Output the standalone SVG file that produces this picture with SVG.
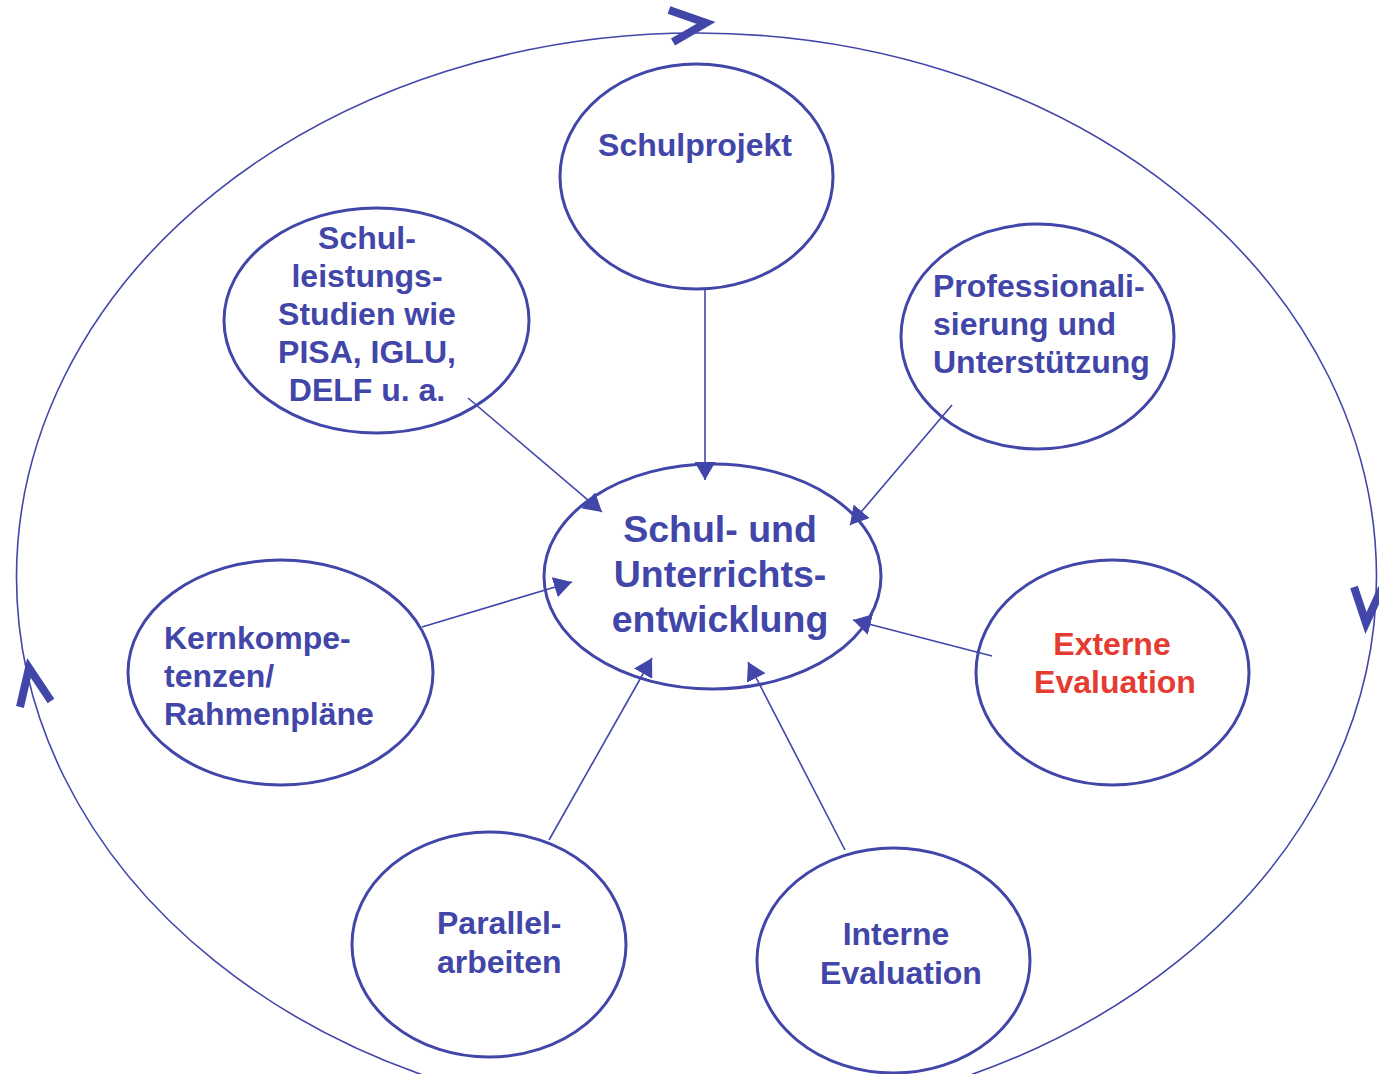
<svg xmlns="http://www.w3.org/2000/svg" width="1379" height="1074" viewBox="0 0 1379 1074">
<defs>
<style>
.node{fill:#fff;stroke:#4146A8;stroke-width:3}
.outer{fill:none;stroke:#4146A8;stroke-width:1.6}
.t{font-family:"Liberation Sans",Arial,sans-serif;font-weight:bold;font-size:32px;fill:#4146A8}
.c{text-anchor:middle}
.big{font-size:37.5px}
.red{fill:#E53B30}
.conn{stroke:#4146A8;stroke-width:1.6;fill:none;marker-end:url(#ah)}
.chev{fill:none;stroke:#4146A8;stroke-width:8;stroke-linejoin:miter}
</style>
<marker id="ah" viewBox="0 0 18 21" refX="18" refY="10.5" markerWidth="18" markerHeight="21" markerUnits="userSpaceOnUse" orient="auto">
<path d="M0,0 L18,10.5 L0,21 z" fill="#4146A8"/>
</marker>
</defs>
<rect width="1379" height="1074" fill="#fff"/>
<g id="cycle">
<ellipse class="outer" cx="696.5" cy="577" rx="680" ry="544"/>
<polyline class="chev" points="669,10 706,23 673,42"/>
<polyline class="chev" points="1354,587 1366,623 1382,588"/>
<polyline class="chev" points="20,707 29,668 51,701"/>
</g>
<g id="schulprojekt">
<ellipse class="node" cx="696.5" cy="176.5" rx="136.5" ry="112.5"/>
<text class="t c" x="695" y="156">Schulprojekt</text>
</g>
<g id="schulleistungsstudien">
<ellipse class="node" cx="376.5" cy="320.5" rx="152.5" ry="112.5"/>
<text class="t c" x="367" y="249">Schul-</text>
<text class="t c" x="367" y="287">leistungs-</text>
<text class="t c" x="367" y="325">Studien wie</text>
<text class="t c" x="367" y="363">PISA, IGLU,</text>
<text class="t c" x="367" y="401">DELF u. a.</text>
</g>
<g id="professionalisierung">
<ellipse class="node" cx="1037.5" cy="336.5" rx="136.5" ry="112.5"/>
<text class="t" x="933" y="297">Professionali-</text>
<text class="t" x="933" y="335">sierung und</text>
<text class="t" x="933" y="373">Unterstützung</text>
</g>
<g id="kernkompetenzen">
<ellipse class="node" cx="280.5" cy="672.5" rx="152.5" ry="112.5"/>
<text class="t" x="164" y="649">Kernkompe-</text>
<text class="t" x="164" y="687">tenzen/</text>
<text class="t" x="164" y="725">Rahmenpläne</text>
</g>
<g id="zentrum">
<ellipse class="node" cx="712.5" cy="576.5" rx="168.5" ry="112.5"/>
<text class="t c big" x="720" y="542">Schul- und</text>
<text class="t c big" x="720" y="587">Unterrichts-</text>
<text class="t c big" x="720" y="632">entwicklung</text>
</g>
<g id="externe-evaluation">
<ellipse class="node" cx="1112.5" cy="672.5" rx="136.5" ry="112.5"/>
<text class="t c red" x="1112" y="655">Externe</text>
<text class="t c red" x="1115" y="693">Evaluation</text>
</g>
<g id="parallelarbeiten">
<ellipse class="node" cx="489" cy="944.5" rx="137" ry="112.5"/>
<text class="t" x="437" y="934">Parallel-</text>
<text class="t" x="437" y="973">arbeiten</text>
</g>
<g id="interne-evaluation">
<ellipse class="node" cx="893.5" cy="960.5" rx="136.5" ry="112.5"/>
<text class="t c" x="896" y="945">Interne</text>
<text class="t c" x="901" y="984">Evaluation</text>
</g>
<g id="connectors">
<line class="conn" x1="705" y1="289" x2="705" y2="480"/>
<line class="conn" x1="468" y1="398" x2="602" y2="512"/>
<line class="conn" x1="952" y1="405" x2="850" y2="525"/>
<line class="conn" x1="422" y1="627" x2="572" y2="582"/>
<line class="conn" x1="992" y1="656" x2="853" y2="620"/>
<line class="conn" x1="549" y1="840" x2="652" y2="658"/>
<line class="conn" x1="845" y1="850" x2="748" y2="662"/>
</g>
</svg>
